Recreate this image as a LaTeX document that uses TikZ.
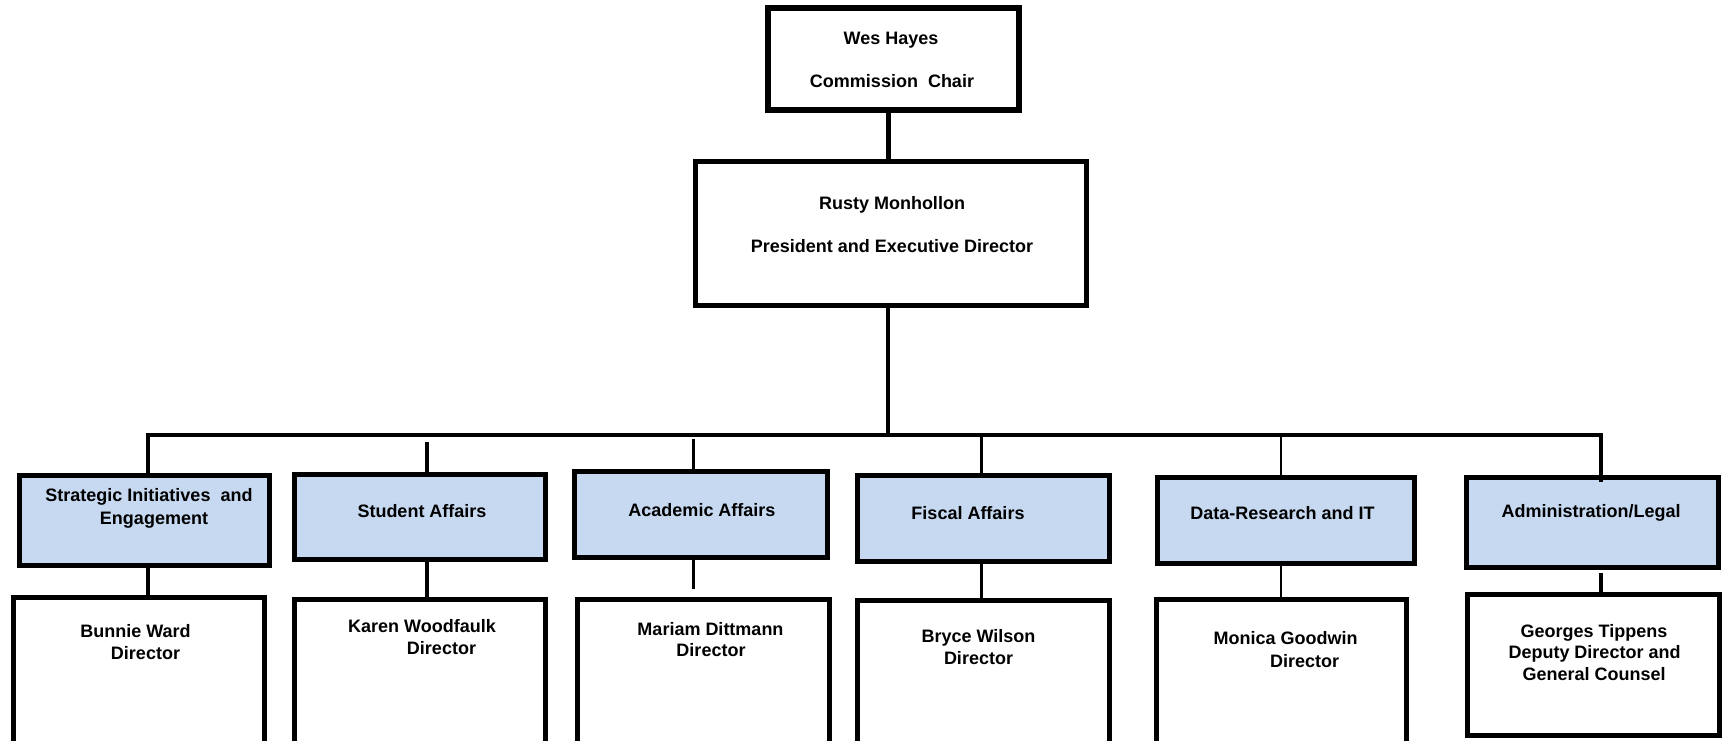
\documentclass[tikz,border=0pt]{standalone}
\usepackage{fontspec}
\setmainfont{Liberation Sans}
\definecolor{deptblue}{RGB}{198,217,241}
\begin{document}
\begin{tikzpicture}[x=1pt,y=-1pt,
  topbox/.style={draw=black, line width=5.5pt, fill=white, rectangle, inner sep=0pt},
  rowbox/.style={draw=black, line width=5pt, fill=deptblue, rectangle, inner sep=0pt},
  namebox/.style={draw=black, line width=5pt, fill=white, rectangle, inner sep=0pt},
  lbl/.style={font=\fontsize{18}{22}\selectfont\bfseries, inner sep=0pt, anchor=base},
  conn/.style={draw=black, line width=4pt},
  midconn/.style={draw=black, line width=3pt},
  thinconn/.style={draw=black, line width=1.3pt}]
\useasboundingbox (0,0) rectangle (1723,740);
\clip (0,0) rectangle (1723,740);
% top boxes
\node[topbox, minimum width=251pt, minimum height=102pt] (chair) at (893.5,59) {};
\node[topbox, minimum width=391pt, minimum height=144pt] (pres) at (891,233.5) {};
% department boxes
\node[rowbox, minimum width=250pt, minimum height=90pt] (s1) at (144.5,520.5) {};
\node[rowbox, minimum width=251pt, minimum height=85pt] (s2) at (420,517) {};
\node[rowbox, minimum width=253pt, minimum height=86pt] (s3) at (701,514.5) {};
\node[rowbox, minimum width=252pt, minimum height=86pt] (s4) at (983.5,518.5) {};
\node[rowbox, minimum width=257pt, minimum height=86pt] (s5) at (1286,520.5) {};
\node[rowbox, minimum width=252pt, minimum height=90pt] (s6) at (1592.5,522.5) {};
% director boxes
\node[namebox, minimum width=251pt, minimum height=160pt] (d1) at (139,677.5) {};
\node[namebox, minimum width=251pt, minimum height=160pt] (d2) at (420,679.5) {};
\node[namebox, minimum width=252pt, minimum height=160pt] (d3) at (703.5,679.5) {};
\node[namebox, minimum width=252pt, minimum height=160pt] (d4) at (983.5,680.5) {};
\node[namebox, minimum width=250pt, minimum height=160pt] (d5) at (1281.5,679.5) {};
\node[namebox, minimum width=252pt, minimum height=141pt] (d6) at (1593.5,664.5) {};
% connectors
\coordinate (bm) at (888,435);
\coordinate (busL) at (148,435);
\coordinate (busR) at (1601,435);
\draw[conn, line width=5pt] (bm |- chair.south) -- (bm |- pres.north);
\draw[conn] (bm |- pres.south) -- (bm);
\draw[conn] ([xshift=-2pt]busL) -- ([xshift=2pt]busR);
\coordinate (b1) at (148,435);
\coordinate (b2) at (427,442);
\coordinate (b3) at (693,439);
\coordinate (e3) at (693,589);
\coordinate (b4) at (981,435);
\coordinate (b5) at (1281,435);
\coordinate (b6) at (1601,435);
\coordinate (i6) at (1601,482);
\coordinate (j6) at (1601,573);
\draw[conn] (b1) -- (b1 |- s1.north);
\draw[conn] (b1 |- s1.south) -- (b1 |- d1.north);
\draw[conn] (b2) -- (b2 |- s2.north);
\draw[conn] (b2 |- s2.south) -- (b2 |- d2.north);
\draw[midconn] (b3) -- (b3 |- s3.north);
\draw[midconn] (b3 |- s3.south) -- (e3);
\draw[midconn] (b4) -- (b4 |- s4.north);
\draw[midconn] (b4 |- s4.south) -- (b4 |- d4.north);
\draw[thinconn] (b5) -- (b5 |- s5.north);
\draw[thinconn] (b5 |- s5.south) -- (b5 |- d5.north);
\draw[conn] (b6) -- (i6);
\draw[conn] (j6) -- (b6 |- d6.north);
% labels
\node[lbl] (l1) at (891,44) {Wes Hayes};
\node[lbl] (l2) at (892,87) {Commission\ \ Chair};
\node[lbl] (l3) at (892,209) {Rusty Monhollon};
\node[lbl] (l4) at (892,252) {President and Executive Director};
\node[lbl] (l5) at (149,501) {Strategic Initiatives\ \ and};
\node[lbl] (l6) at (154,524) {Engagement};
\node[lbl] (l7) at (422,517) {Student Affairs};
\node[lbl] (l8) at (702,516) {Academic Affairs};
\node[lbl] (l9) at (968,519) {Fiscal Affairs};
\node[lbl] (l10) at (1282.5,519) {Data-Research and IT};
\node[lbl] (l11) at (1591,517) {Administration/Legal};
\node[lbl] (l12) at (135.5,637) {Bunnie Ward};
\node[lbl] (l13) at (145.5,659) {Director};
\node[lbl] (l14) at (422,632) {Karen Woodfaulk};
\node[lbl] (l15) at (441.5,654) {Director};
\node[lbl] (l16) at (710.5,635) {Mariam Dittmann};
\node[lbl] (l17) at (711,656) {Director};
\node[lbl] (l18) at (978.5,642) {Bryce Wilson};
\node[lbl] (l19) at (978.5,664) {Director};
\node[lbl] (l20) at (1285.5,644) {Monica Goodwin};
\node[lbl] (l21) at (1304.5,667) {Director};
\node[lbl] (l22) at (1594,637) {Georges Tippens};
\node[lbl] (l23) at (1594.5,658) {Deputy Director and};
\node[lbl] (l24) at (1594,680) {General Counsel};
\end{tikzpicture}
\end{document}
